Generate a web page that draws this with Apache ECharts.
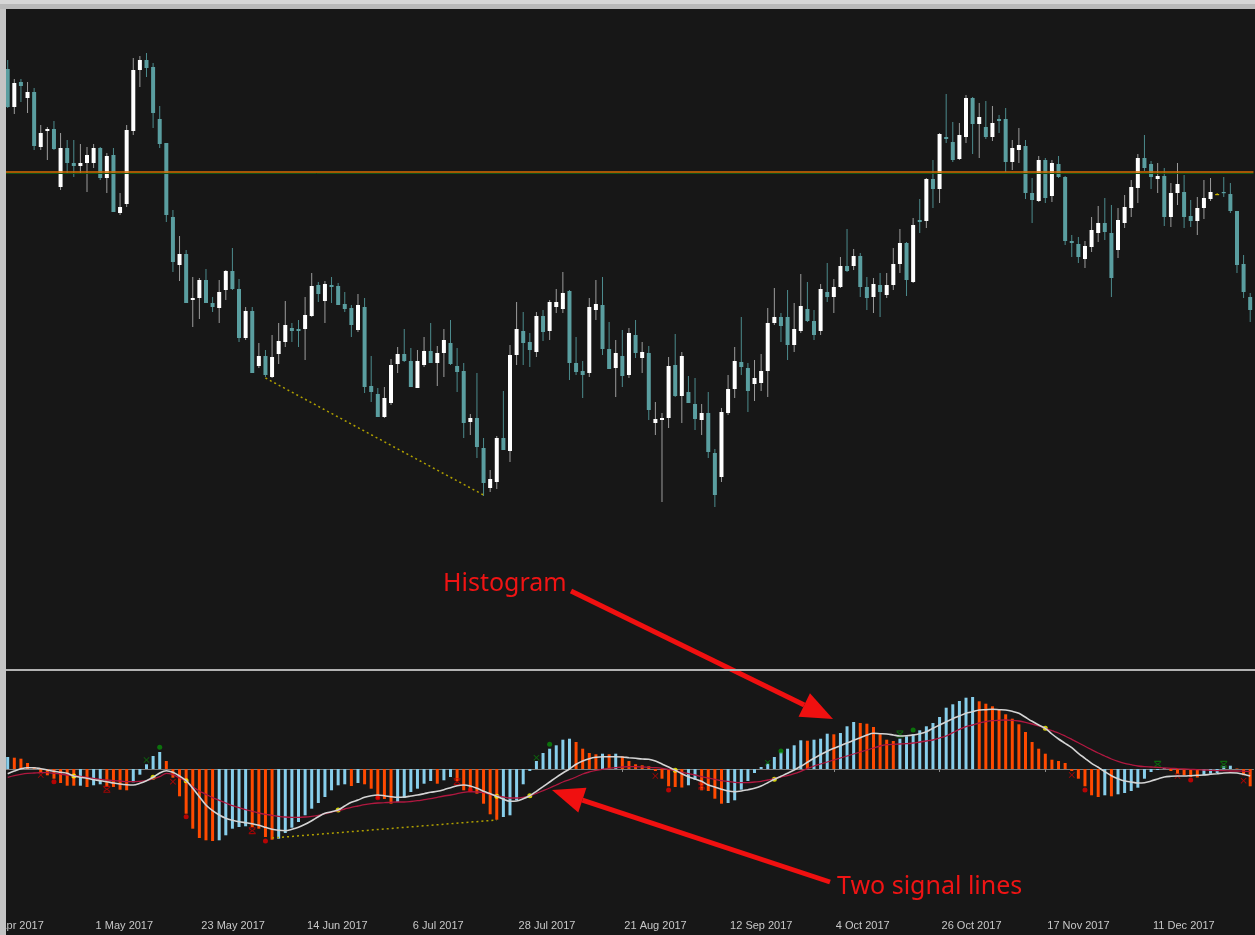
<!DOCTYPE html>
<html><head><meta charset="utf-8">
<script src="https://cdn.jsdelivr.net/npm/echarts/dist/echarts.min.js"></script>
<style>html,body{margin:0;padding:0;background:#171717;overflow:hidden}#c{width:1255px;height:935px}</style>
</head><body><div id="c"></div><script>
// ---- data (price pane, arbitrary price units; no price scale visible) ----
const openP = [631,593,618,602,608,553,569,571,513,552,537,534,537,537,552,522,545,487,496,569,
630,640,633,581,557,483,435,446,400,402,420,397,392,410,429,411,362,389,334,344,
323,346,358,372,371,371,384,415,399,415,414,396,392,370,393,314,306,283,297,336,
346,339,312,335,349,337,347,357,334,329,278,282,252,212,218,262,249,345,369,358,
348,384,369,393,391,409,337,329,327,390,395,351,332,344,325,365,342,347,277,280,
282,335,304,308,296,280,287,247,223,287,311,338,332,316,317,329,377,383,383,355,
369,391,379,369,408,403,413,434,434,444,413,403,415,405,415,436,457,418,480,479,
521,511,563,558,541,563,602,576,573,563,581,581,538,550,554,507,499,540,504,536,
523,459,456,441,453,467,477,467,450,477,492,512,542,536,521,524,483,507,508,484,
479,492,501,506,508,506,489,436,403];
const closeP = [593,617,614,608,554,567,571,551,552,537,534,537,545,552,522,544,488,493,570,630,
640,632,587,556,485,438,446,397,402,420,397,393,408,429,411,362,389,327,344,325,
343,359,375,369,369,385,414,406,416,413,395,391,375,395,313,308,283,302,335,346,
339,313,339,349,337,347,360,336,328,277,282,253,217,221,262,250,345,371,357,350,
384,368,398,398,407,337,328,325,393,396,351,331,347,324,367,347,348,290,281,282,
334,304,344,297,281,287,248,205,288,311,339,333,309,322,329,377,383,374,355,371,
394,379,365,411,403,413,434,429,444,413,402,416,408,415,436,457,420,475,478,521,
511,566,561,540,565,602,576,583,563,577,579,538,552,555,507,500,540,502,537,523,
459,457,443,454,470,477,468,422,480,493,513,542,532,523,524,483,507,516,483,479,
492,502,508,506,507,489,435,408,390];
const lowP = [592,586,598,587,550,550,540,550,510,527,523,527,508,532,520,507,488,485,493,565,
613,623,572,552,478,428,419,397,373,381,397,388,377,400,410,358,360,327,332,323,
322,336,353,358,353,340,383,398,377,397,395,388,363,368,307,298,283,282,295,327,
338,313,312,333,337,314,323,335,308,262,265,242,204,208,211,250,238,335,335,333,
343,359,360,387,387,320,325,302,323,380,345,331,303,313,322,342,327,280,265,198,
272,303,277,297,270,265,242,193,218,285,302,325,288,299,309,303,375,358,340,348,
367,378,360,365,398,387,412,428,430,403,390,387,383,402,410,427,404,417,467,472,
492,497,557,538,540,557,546,542,561,559,567,528,530,537,501,477,498,497,498,522,
455,443,437,432,448,458,460,403,442,472,483,497,529,511,507,474,473,495,472,473,
465,481,499,506,503,487,427,402,378];
const highP = [640,621,621,618,612,575,573,579,567,560,560,556,553,556,553,547,552,507,575,642,
644,647,637,594,557,490,464,450,423,422,431,403,420,430,452,421,393,393,357,350,
365,377,399,377,380,403,427,418,419,423,417,408,395,406,402,344,312,313,341,353,
371,352,350,363,377,354,371,380,352,337,286,327,262,230,264,309,355,398,388,367,
388,390,400,411,428,410,363,339,402,420,423,378,360,370,372,380,358,354,298,287,
343,366,348,324,322,296,308,251,292,325,353,383,337,340,346,392,412,387,410,397,
426,418,390,416,437,421,443,471,451,447,423,422,427,427,452,471,458,482,501,522,
540,567,606,578,577,605,603,597,599,594,585,592,560,572,560,522,544,542,540,544,
524,465,463,459,483,494,502,495,492,505,520,546,565,539,537,532,517,537,525,500,
503,520,522,507,523,517,489,445,407];
const levelLine = 528;                       // horizontal level in price pane
const priceTrend = [[39, 322], [72, 205]];   // dotted trend line (bar index, price)

// ---- oscillator pane ----
const hist = [12,11.3,10.3,6,2,-3,-6.3,-9.7,-14,-16.7,
-16.7,-16.7,-18,-16.3,-15.3,-18,-18,-20.7,-21.3,-13.3,
-5.7,4.7,13,17,8,-8.7,-27.3,-44.7,-59.7,-69,
-71.3,-72,-71.3,-66.3,-59.7,-58,-57.3,-58,-59.7,-68,
-70.7,-69.7,-64,-58.7,-53,-46.3,-39.7,-34,-28,-21.3,
-16.3,-15.3,-17,-14,-15.3,-19.7,-29.7,-30,-34.7,-33,
-29,-23,-19.7,-14.7,-12,-14.7,-11.3,-8,-12,-21.3,
-22,-24.7,-34.7,-45.3,-50.7,-48,-46.3,-31.3,-15.3,-2,
8,16,20.3,23.7,29.3,30.3,27,20.3,16,14.7,
15.3,14.7,15.3,12.7,8,4.7,3.7,2.7,-2,-9.7,
-17.3,-18,-18.5,-16.3,-10.7,-21.3,-22,-29.7,-34.7,-34,
-31.3,-20.7,-12,-4,2,5.3,12,17,20.3,23.7,
28.7,28.3,29.3,30.3,35.3,34.7,36,42.7,47,46,
45.3,42,34.7,29.3,28,30.3,32.7,34.7,38.7,42.7,
46,52,61.3,64.7,68,71.3,72,67.7,65.3,62.7,
59.3,54.7,50.3,44.7,37,27,20.3,15.3,9.3,8,
6,-2,-9.7,-17.3,-26.3,-28,-26.3,-27.3,-25.3,-24,
-22,-18.7,-9.7,-3,-1,1,-2,-4.7,-6.3,-8,
-8.5,-6.3,-4.7,-4,2.7,3.3,0.5,-6.3,-17.3];
const histColor = "BOOOOOOOOO"+"OBOBBOOOOB"+"BBBBOOOOOO"+"OOBBBBBOOO"+"OBBBBBBBBB"+"BBOBOOOOOB"+
"BBBBBOBBOO"+"OOOOOBBBBB"+"BBBBBBOOOO"+"BOBOOOOOOO"+"OOOBBOOOOB"+"BBBBBBBBBB"+"BOBBBOBBBO"+
"OOOOOBBBBB"+"BBBBBBBOOO"+"OOOOOOOOOO"+"OOOOOOBOBB"+"BBBBBBOOOO"+"OBBBBBOOO";
const signalWhite = [-4.7,-2,0.3,1.3,1.3,0.3,-1,-2.3,-3.3,-4.3,
-7,-8.3,-9.3,-10.7,-11.7,-12.7,-14,-15,-15.7,-16,
-14.3,-11.7,-8.3,-4,-1.7,-3.3,-7,-11.7,-19.3,-27.7,
-36,-41.7,-46,-49.3,-51.3,-52.7,-53.7,-54.7,-56.3,-58.3,
-60.3,-61.3,-61.7,-60.3,-58.3,-55.3,-51.7,-47.7,-44.3,-42.7,
-41,-37,-33.3,-31,-28.3,-26.7,-26,-26.7,-27.7,-28.3,
-28,-27,-26,-24.7,-23.3,-22.3,-20.7,-18.7,-16.7,-16,
-17,-19.3,-22.3,-24.7,-27.3,-30.3,-32.3,-32,-29.7,-26.7,
-22.3,-17.7,-13,-8.3,-4,0,4.7,8,10.3,11.7,
12.3,12.3,12.3,12,11.3,10.7,10,9.7,8,5,
2,-1.3,-4.7,-7.7,-10,-12.3,-16,-18,-20.3,-22,
-22.7,-22,-20.7,-19.3,-17,-13.7,-10.3,-7.3,-4.3,-1,
2.7,6.7,10.7,14.5,17.8,20.7,23.3,26,28.7,31.3,
34,35.7,35.3,35,34,33,33.3,34,35.3,37.3,
40.7,44,47.3,50.3,53,55.7,57.3,59,59.3,59.7,
59.3,59,57.7,55.7,51.7,47.7,44,40.7,35,30,
25.7,21.3,15.7,10.7,5.7,1.7,-2.7,-6.7,-9.7,-12,
-13,-14,-13.7,-12,-10,-8,-7.3,-7,-7,-6.7,
-6.3,-6,-5.3,-4.7,-4,-3.7,-4,-5.3,-7];
const signalRed = [-8.3,-6.7,-5.3,-4.3,-4,-3.7,-3.7,-4.3,-5,-6,
-6.7,-7.3,-8.3,-9.3,-10.3,-11,-11.7,-12,-12.7,-12.7,
-12.3,-11.7,-10,-7.7,-4.3,-5.7,-9,-12.3,-17.7,-22,
-25.3,-28.7,-31.3,-34,-36.7,-38.7,-40.7,-42.3,-44,-45.3,
-46.3,-47.3,-48,-48.3,-48.3,-48,-47.3,-46.3,-44.7,-43,
-41.7,-40,-38.3,-37,-35.7,-34.7,-34,-33.7,-33.3,-33,
-33,-32.5,-31.7,-30.7,-29.7,-28.3,-27,-26,-24.7,-23.3,
-22.7,-23,-23.7,-25.3,-26.7,-28,-29,-29,-28.3,-27,
-24.3,-21.7,-19,-16,-13,-10.7,-8,-5,-3,-1.3,
-0.3,0.7,1.3,2,2.3,2.3,2,1.7,1.3,0.7,
-0.3,-1.7,-3.3,-4.7,-6,-7.7,-9,-10.3,-11.7,-12.3,
-13.3,-13.7,-13.7,-13,-12.3,-11,-9.7,-8,-6.7,-4.7,
-2.3,0.3,3,5,7,9,11,13,15,17,
19,21,23,24.3,24.7,25,25.3,26,27,28,
29,31,33,36.3,39.7,42.3,44,46,47.3,48.3,
48.7,49,48.7,48,46.7,45,43,40.7,38.3,36,
33,29.7,26.3,22.7,19.3,16,13,10,7.7,5.7,
4.3,3,2.3,2,1.7,1,0.7,0.3,0,-0.3,
-0.7,-1,-1.3,-1.7,-1.7,-2,-2,-2.3,-2.7];
const crossDots = [[10,-7],[22,-8.3],[27,-11.7],[50,-41],[74,-27.3],[79,-26.7],[101,-1.3],[116,-10.3],[157,40.7]];
const redDots = [[7,-12.7],[27,-47.7],[39,-72],[56,-28.7],[70,-21],[100,-21],[163,-21],[179,-11]];
const greenDots = [[23,21.7],[82,24.7],[117,18],[137,39]];
const redX = [[5,-6],[25,-12.7],[98,-7],[161,-6],[177,-7],[187,-11.7]];
const redBoxX = [[15,-20.3],[37,-61.7],[68,-12.7],[105,-17]];
const greenX = [[21,9],[80,11.3],[115,6.3]];
const greenBoxX = [[135,35],[174,4.7],[184,4.7]];
const oscTrend = [[40,-69],[74,-51]];

// ---- categories: trading days starting 12 Apr 2017 ----
const MONTHS = ['Jan','Feb','Mar','Apr','May','Jun','Jul','Aug','Sep','Oct','Nov','Dec'];
const dates = [];
(function(){ const d = new Date(Date.UTC(2017,3,12));
  while (dates.length < openP.length) { const w = d.getUTCDay();
    if (w !== 0 && w !== 6) dates.push(d.getUTCDate()+' '+MONTHS[d.getUTCMonth()]+' '+d.getUTCFullYear());
    d.setUTCDate(d.getUTCDate()+1); } })();
const firstLabel = 13, labelStep = 16;
const showLbl = (i) => i >= firstLabel && (i - firstLabel) % labelStep === 0;

const candleData = openP.map((o,i)=>[i,o,closeP[i],lowP[i],highP[i]]);

const chart = echarts.init(document.getElementById('c'), null, {renderer:'canvas'});
const XPATH = 'path://M1,0L5,4L9,0L10,1L6,5L10,9L9,10L5,6L1,10L0,9L4,5L0,1Z';
const BOXX = 'path://M0,0H10V1.6H0Z M0,8.4H10V10H0Z M1.4,1.6L5,4.2L8.6,1.6L10,2.6L6.2,5L10,7.4L8.6,8.4L5,5.8L1.4,8.4L0,7.4L3.8,5L0,2.6Z';

function arrow(x1,y1,x2,y2){
  const ang = Math.atan2(y2-y1,x2-x1), hl = 32, hw = 13;
  const bx = x2 - hl*Math.cos(ang), by = y2 - hl*Math.sin(ang);
  const px = -Math.sin(ang), py = Math.cos(ang);
  return {type:'group', children:[
    {type:'line', shape:{x1:x1,y1:y1,x2:bx,y2:by}, style:{stroke:'#f01010',lineWidth:5}},
    {type:'polygon', shape:{points:[[x2,y2],[bx+px*hw,by+py*hw],[bx-px*hw,by-py*hw]]}, style:{fill:'#f01010'}}
  ]};
}

const option = {
  backgroundColor:'#171717',
  animation:false,
  grid:[{left:4.4,width:1249.1,top:9,height:658},{left:4.4,width:1249.1,top:671,height:244}],
  xAxis:[
    {type:'category',gridIndex:0,data:dates,boundaryGap:true,show:false},
    {type:'category',gridIndex:1,data:dates,boundaryGap:true,
     axisLine:{show:true,lineStyle:{color:'#7c7c7c',width:1}},
     axisTick:{show:true,alignWithLabel:true,interval:(i)=>showLbl(i),length:3,lineStyle:{color:'#8a8a8a'}},
     axisLabel:{show:true,interval:(i)=>showLbl(i),align:'left',margin:5,padding:[0,0,0,2],
       color:'#c8c8c8',fontSize:11,fontFamily:'Liberation Sans'},
     splitLine:{show:false}}
  ],
  yAxis:[
    {type:'value',gridIndex:0,min:33,max:691,show:false,splitLine:{show:false}},
    {type:'value',gridIndex:1,min:-146,max:98,show:false,splitLine:{show:false}}
  ],
  series:[
    {type:'custom',name:'price',xAxisIndex:0,yAxisIndex:0,data:candleData,encode:{x:0,y:[1,2,3,4]},
     renderItem:function(params,api){
       const i=api.value(0),o=api.value(1),c=api.value(2),l=api.value(3),h=api.value(4);
       const pO=api.coord([i,o]),pC=api.coord([i,c]),pL=api.coord([i,l]),pH=api.coord([i,h]);
       const x=pO[0], bw=4;
       const up=c>o, doji=c===o;
       const wick=doji?'#b8a400':(up?'#9c9c9c':'#4c8b8d');
       const body=doji?'#c8b400':(up?'#ffffff':'#5a9ea0');
       const top=Math.min(pO[1],pC[1]), bot=Math.max(pO[1],pC[1]);
       return {type:'group',children:[
         {type:'line',shape:{x1:x,y1:pH[1],x2:x,y2:pL[1]},style:{stroke:wick,lineWidth:1}},
         {type:'rect',shape:{x:x-bw/2,y:top,width:bw,height:Math.max(bot-top,1.2)},style:{fill:body}}
       ]};
     },
     markLine:{silent:true,symbol:['none','none'],label:{show:false},animation:false,
       data:[
         {yAxis:levelLine,lineStyle:{color:'#d86c00',width:1.5,type:'solid'}},
         {yAxis:levelLine-1.3,lineStyle:{color:'#145214',width:1,type:'solid'}},
         [{coord:[dates[priceTrend[0][0]],priceTrend[0][1]],lineStyle:{color:'#b0a000',width:1.5,type:[2,3]}},
          {coord:[dates[priceTrend[1][0]],priceTrend[1][1]]}]
       ]}
    },
    {type:'bar',name:'histogram',xAxisIndex:1,yAxisIndex:1,data:hist,barWidth:3,
     itemStyle:{color:(p)=>histColor[p.dataIndex]==='B'?'#87ceeb':'#ff4a00'},
     markLine:{silent:true,symbol:['none','none'],label:{show:false},
       data:[[{coord:[dates[oscTrend[0][0]],oscTrend[0][1]],lineStyle:{color:'#b0a000',width:1.5,type:[2,3]}},
              {coord:[dates[oscTrend[1][0]],oscTrend[1][1]]}]]}
    },
    {type:'line',name:'signal 2',xAxisIndex:1,yAxisIndex:1,data:signalRed,showSymbol:false,smooth:0.3,
     lineStyle:{color:'#b01840',width:1.3}},
    {type:'line',name:'signal 1',xAxisIndex:1,yAxisIndex:1,data:signalWhite,showSymbol:false,smooth:0.3,
     lineStyle:{color:'#d4d4d4',width:1.6}},
    {type:'scatter',xAxisIndex:1,yAxisIndex:1,data:crossDots.map(p=>[dates[p[0]],p[1]]),symbol:'circle',symbolSize:5,itemStyle:{color:'#ffff00'}},
    {type:'scatter',xAxisIndex:1,yAxisIndex:1,data:redDots.map(p=>[dates[p[0]],p[1]]),symbol:'circle',symbolSize:5,itemStyle:{color:'#e00000'}},
    {type:'scatter',xAxisIndex:1,yAxisIndex:1,data:greenDots.map(p=>[dates[p[0]],p[1]]),symbol:'circle',symbolSize:5,itemStyle:{color:'#0a8a0a'}},
    {type:'scatter',xAxisIndex:1,yAxisIndex:1,data:redX.map(p=>[dates[p[0]],p[1]]),symbol:XPATH,symbolSize:6,itemStyle:{color:'#d00000'}},
    {type:'scatter',xAxisIndex:1,yAxisIndex:1,data:redBoxX.map(p=>[dates[p[0]],p[1]]),symbol:BOXX,symbolSize:7,itemStyle:{color:'#c00000'}},
    {type:'scatter',xAxisIndex:1,yAxisIndex:1,data:greenX.map(p=>[dates[p[0]],p[1]]),symbol:XPATH,symbolSize:6,itemStyle:{color:'#0a7a0a'}},
    {type:'scatter',xAxisIndex:1,yAxisIndex:1,data:greenBoxX.map(p=>[dates[p[0]],p[1]]),symbol:BOXX,symbolSize:7,itemStyle:{color:'#0a7a0a'}}
  ],
  graphic:[
    {type:'rect',z:50,shape:{x:6,y:669,width:1249,height:2},style:{fill:'#b2b2b2'}},
    {type:'text',z:50,x:-10,y:926,style:{text:'7 Apr 2017',fill:'#c8c8c8',fontSize:11,fontFamily:'Liberation Sans',verticalAlign:'middle',align:'left'}},
    {type:'text',z:60,x:443,y:584,style:{text:'Histogram',fill:'#f01414',fontSize:25,fontFamily:'Noto Sans',verticalAlign:'middle',align:'left'}},
    {type:'text',z:60,x:837,y:887,style:{text:'Two signal lines',fill:'#f01414',fontSize:25,fontFamily:'Noto Sans',verticalAlign:'middle',align:'left'}},
    Object.assign(arrow(571,591,833,719),{z:60}),
    Object.assign(arrow(830,882,552,790),{z:60}),
    {type:'rect',z:100,shape:{x:0,y:0,width:6,height:935},style:{fill:'#c4c4c4'}},
    {type:'rect',z:100,shape:{x:0,y:0,width:1255,height:4},style:{fill:'#d6d6d6'}},
    {type:'rect',z:100,shape:{x:0,y:4,width:1255,height:5},style:{fill:'#b9b9b9'}}
  ]
};
chart.setOption(option);
</script></body></html>
